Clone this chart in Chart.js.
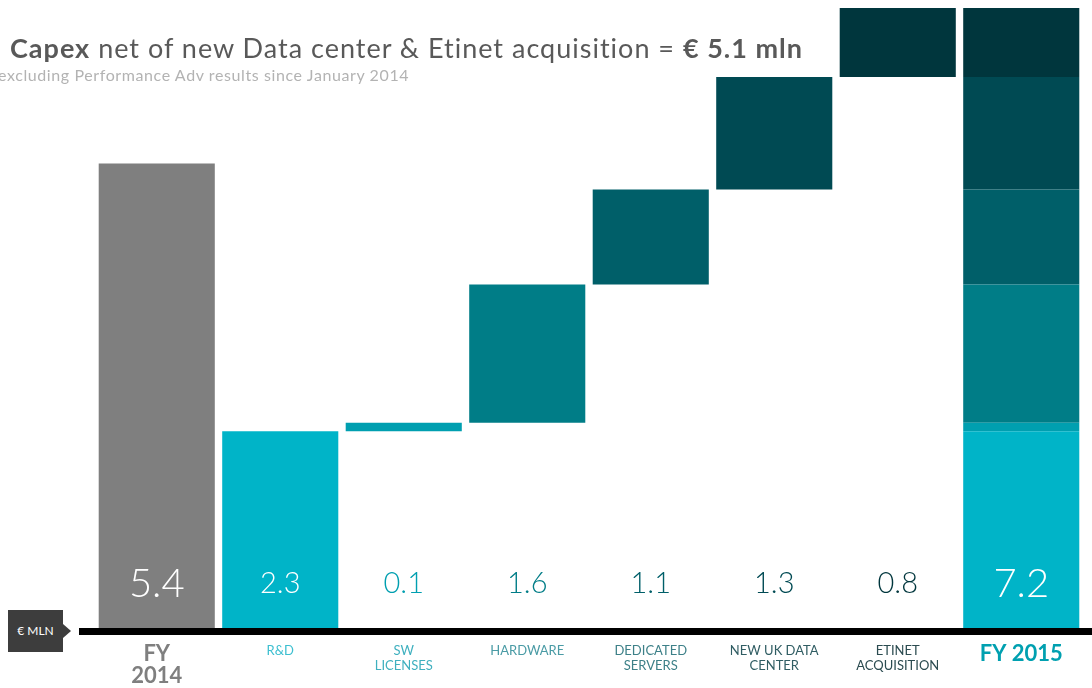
<!DOCTYPE html>
<html>
<head>
<meta charset="utf-8">
<script src="https://cdn.jsdelivr.net/npm/chart.js@4"></script>
<style>
  body { margin: 0; background: #fff; font-family: "Lato", "DejaVu Sans", sans-serif; }
  #wrap { position: relative; width: 1092px; height: 688px; overflow: hidden; }
  #title { position: absolute; left: 10px; top: 31px; font-size: 27px; color: #595959; white-space: nowrap; letter-spacing: 1px; }
  #title b { font-weight: 700; }
  #subtitle { position: absolute; left: -2px; top: 65px; font-size: 16px; color: #b3b3b3; white-space: nowrap; letter-spacing: 0.6px; }
  #unit { position: absolute; left: 8px; top: 610px; width: 55px; height: 42px; background: #3d3d3d; color: #fff;
          font-size: 12px; line-height: 42px; text-align: center; }
  #unit:after { content: ""; position: absolute; right: -8px; top: 14px; border-left: 8px solid #3d3d3d;
                border-top: 7px solid transparent; border-bottom: 7px solid transparent; }
</style>
</head>
<body>
<div id="wrap">
  <canvas id="capexChart" width="1092" height="688"></canvas>
  <div id="title"><b>Capex</b> net of new Data center &amp; Etinet acquisition = <b>€ 5.1 mln</b></div>
  <div id="subtitle">excluding Performance Adv results since January 2014</div>
  <div id="unit">€ MLN</div>
</div>
<script>
// chart values
var categories = [['FY', '2014'], 'R&D', ['SW', 'LICENSES'], 'HARDWARE', ['DEDICATED', 'SERVERS'], ['NEW UK DATA', 'CENTER'], ['ETINET', 'ACQUISITION'], 'FY 2015'];
var fy2014Value = 5.4;
var stepValues = [2.3, 0.1, 1.6, 1.1, 1.3, 0.8]; // R&D ... Etinet
var fy2015Value = 7.2;
var valueLabels = ['5.4', '2.3', '0.1', '1.6', '1.1', '1.3', '0.8', '7.2'];

var stepColors = ['#00b4c8', '#009fb0', '#007d87', '#005f69', '#004a53', '#00363d'];
var labelColors = ['#ffffff', '#ffffff', '#009fb0', '#007d87', '#005f69', '#004a53', '#00363d', '#ffffff'];
var tickColors = ['#7f7f7f', '#3cbfd0', '#3fb0bf', '#4a9ba5', '#3d8088', '#305d63', '#2b4b50', '#00a0b0'];

// Build datasets: FY2014 bar, then one floating bar per step, repeated in the FY2015 stack
var datasets = [{
    data: categories.map((c, i) => i === 0 ? fy2014Value : null),
    backgroundColor: '#7f7f7f'
}];
var running = 0;
stepValues.forEach(function (v, i) {
    var data = categories.map(() => null);
    data[i + 1] = [running, running + v];
    data[categories.length - 1] = [running, running + v];
    running += v;
    datasets.push({ data: data, backgroundColor: stepColors[i] });
});
datasets.forEach(function (ds) {
    ds.grouped = false;
    ds.barPercentage = 0.94;
    ds.categoryPercentage = 1;
    ds.borderSkipped = false;
});

// value labels near the bottom of each bar, plus the thick base line
var valueLabelPlugin = {
    id: 'valueLabels',
    afterDatasetsDraw: function (chart) {
        var ctx = chart.ctx;
        var x = chart.scales.x, y = chart.scales.y;
        var base = y.getPixelForValue(0);
        ctx.save();
        ctx.fillStyle = '#000';
        ctx.fillRect(79, base - 2, 1092 - 79, 7);
        ctx.textAlign = 'center';
        ctx.textBaseline = 'middle';
        valueLabels.forEach(function (txt, i) {
            var big = (i === 0 || i === categories.length - 1);
            ctx.font = '300 ' + (big ? 40 : 29) + 'px Lato';
            ctx.fillStyle = labelColors[i];
            ctx.fillText(txt, x.getPixelForValue(i), base - 46);
        });
        ctx.restore();
    }
};

var ctx = document.getElementById('capexChart').getContext('2d');
var capexChart = new Chart(ctx, {
    type: 'bar',
    data: { labels: categories, datasets: datasets },
    options: {
        responsive: false,
        animation: false,
        layout: { padding: { left: 95, right: 9, top: 8, bottom: 0 } },
        plugins: { legend: { display: false }, tooltip: { enabled: false } },
        scales: {
            x: {
                grid: { display: false, drawTicks: false },
                border: { display: false },
                afterFit: function (scale) { scale.height = 58; },
                ticks: {
                    padding: 13,
                    maxRotation: 0,
                    autoSkip: false,
                    color: (c) => tickColors[c.index],
                    font: function (c) {
                        var big = (c.index === 0 || c.index === categories.length - 1);
                        return big ? { family: 'Lato', size: 22, weight: 'bold', lineHeight: 1.0 }
                                   : { family: 'Lato', size: 13, lineHeight: 1.15 };
                    }
                }
            },
            y: { display: false, min: 0, max: fy2015Value }
        }
    },
    plugins: [valueLabelPlugin]
});
</script>
</body>
</html>
